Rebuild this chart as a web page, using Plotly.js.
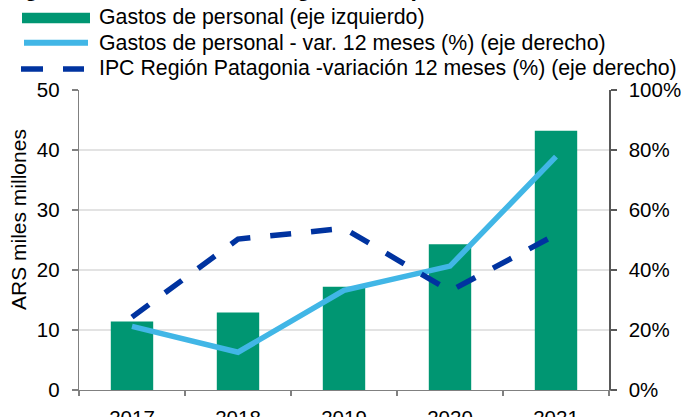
<!DOCTYPE html>
<html>
<head>
<meta charset="utf-8">
<script src="https://cdn.plot.ly/plotly-3.0.1.min.js"></script>
<style>
  html, body { margin: 0; padding: 0; background: #ffffff; }
  #chart { width: 681px; height: 417px; }
</style>
</head>
<body>
<div id="chart"></div>
<script>
// ---- Data ----
const years = ['2017', '2018', '2019', '2020', '2021'];
const gastosPersonal = [11.4, 12.9, 17.2, 24.3, 43.2];          // ARS miles millones (left axis)
const gastosVar12 = [21.2, 12.6, 33.2, 41.3, 77.8];             // % (right axis)
const ipcPatagonia = [24.3, 50.3, 53.9, 33.0, 51.8];            // % (right axis)

const seriesNames = [
  'Gastos de personal (eje izquierdo)',
  'Gastos de personal - var. 12 meses (%) (eje derecho)',
  'IPC Región Patagonia -variación 12 meses (%) (eje derecho)'
];
const yLeftTicks = [0, 10, 20, 30, 40, 50];
const yRightTicks = [0, 20, 40, 60, 80, 100];
const yRightTickText = ['0%', '20%', '40%', '60%', '80%', '100%'];
const chartTitle = 'Figura 4: Evolución de los gastos de personal';
const yTitle = 'ARS miles millones';

// ---- Style ----
const FONT = 'Liberation Sans, Arial, Helvetica, sans-serif';
const GREEN = '#009672';
const LIGHTBLUE = '#41B6E6';
const DARKBLUE = '#0033A0';

const W = 681, H = 417;
const M = { l: 79, r: 72, t: 90, b: 27 };
const PW = W - M.l - M.r, PH = H - M.t - M.b;
const px = x => (x - M.l) / PW;          // pixel -> paper x
const py = y => (H - M.b - y) / PH;      // pixel -> paper y

const traces = [
  {
    type: 'bar', x: years, y: gastosPersonal, name: seriesNames[0],
    marker: { color: GREEN, line: { width: 0 } }, yaxis: 'y', hoverinfo: 'skip'
  },
  {
    type: 'scatter', mode: 'lines', x: years, y: gastosVar12, name: seriesNames[1],
    line: { color: LIGHTBLUE, width: 5.5 }, yaxis: 'y2', hoverinfo: 'skip'
  },
  {
    type: 'scatter', mode: 'lines', x: years, y: ipcPatagonia, name: seriesNames[2],
    line: { color: DARKBLUE, width: 5.5, dash: '21px,20px' }, yaxis: 'y2', hoverinfo: 'skip'
  }
];

// custom legend keys
const legendRowsY = [17.5, 42.7, 68.3];
const shapes = [
  { type: 'rect', xref: 'paper', yref: 'paper', x0: px(22), x1: px(90), y0: py(12.7), y1: py(23.3),
    fillcolor: GREEN, line: { width: 0 } },
  { type: 'line', xref: 'paper', yref: 'paper', x0: px(24), x1: px(88), y0: py(legendRowsY[1]), y1: py(legendRowsY[1]),
    line: { color: LIGHTBLUE, width: 6 } },
  { type: 'line', xref: 'paper', yref: 'paper', x0: px(21), x1: px(84), y0: py(69), y1: py(69),
    line: { color: DARKBLUE, width: 5.5, dash: '22px,20px' } }
];

const annotations = seriesNames.map((t, i) => ({
  xref: 'paper', yref: 'paper', x: px(97), y: py(legendRowsY[i]),
  xanchor: 'left', yanchor: 'middle', showarrow: false, text: t,
  font: { family: FONT, size: 21.3, color: '#000000' }
}));
annotations.push({
  xref: 'paper', yref: 'paper', x: px(18), y: py(220),
  xanchor: 'center', yanchor: 'middle', showarrow: false, textangle: -90,
  text: yTitle, font: { family: FONT, size: 21, color: '#000000' }
});
annotations.push({
  xref: 'paper', yref: 'paper', x: px(2), y: py(3),
  xanchor: 'left', yanchor: 'bottom', showarrow: false,
  text: '<b>' + chartTitle + '</b>', font: { family: FONT, size: 23, color: '#000000' }
});

const layout = {
  width: W, height: H,
  margin: M,
  paper_bgcolor: '#ffffff', plot_bgcolor: '#ffffff',
  font: { family: FONT, size: 20, color: '#000000' },
  showlegend: false,
  bargap: 0.6,
  xaxis: {
    type: 'category', showgrid: false, zeroline: false,
    showline: true, linecolor: '#808080', linewidth: 1.3,
    ticks: 'outside', tickson: 'boundaries', ticklen: 5, tickcolor: '#808080', tickwidth: 1.3,
    ticklabelstandoff: 9,
    tickfont: { family: FONT, size: 20.5, color: '#000000' }
  },
  yaxis: {
    range: [0, 50], tickvals: yLeftTicks,
    showgrid: true, gridcolor: '#e3e3e3', gridwidth: 1.3, zeroline: false,
    showline: true, linecolor: '#808080', linewidth: 1.3,
    ticks: 'outside', ticklen: 6, tickcolor: '#808080', tickwidth: 1.3,
    ticklabelstandoff: 8,
    tickfont: { family: FONT, size: 20.5, color: '#000000' }
  },
  yaxis2: {
    overlaying: 'y', side: 'right', range: [0, 100],
    tickvals: yRightTicks, ticktext: yRightTickText,
    showgrid: false, zeroline: false,
    showline: true, linecolor: '#595959', linewidth: 1.6,
    ticks: 'outside', ticklen: 6, tickcolor: '#595959', tickwidth: 1.3,
    ticklabelstandoff: 8,
    tickfont: { family: FONT, size: 20.5, color: '#000000' }
  },
  shapes: shapes,
  annotations: annotations
};

Plotly.newPlot('chart', traces, layout, { displayModeBar: false, staticPlot: true });
</script>
</body>
</html>
